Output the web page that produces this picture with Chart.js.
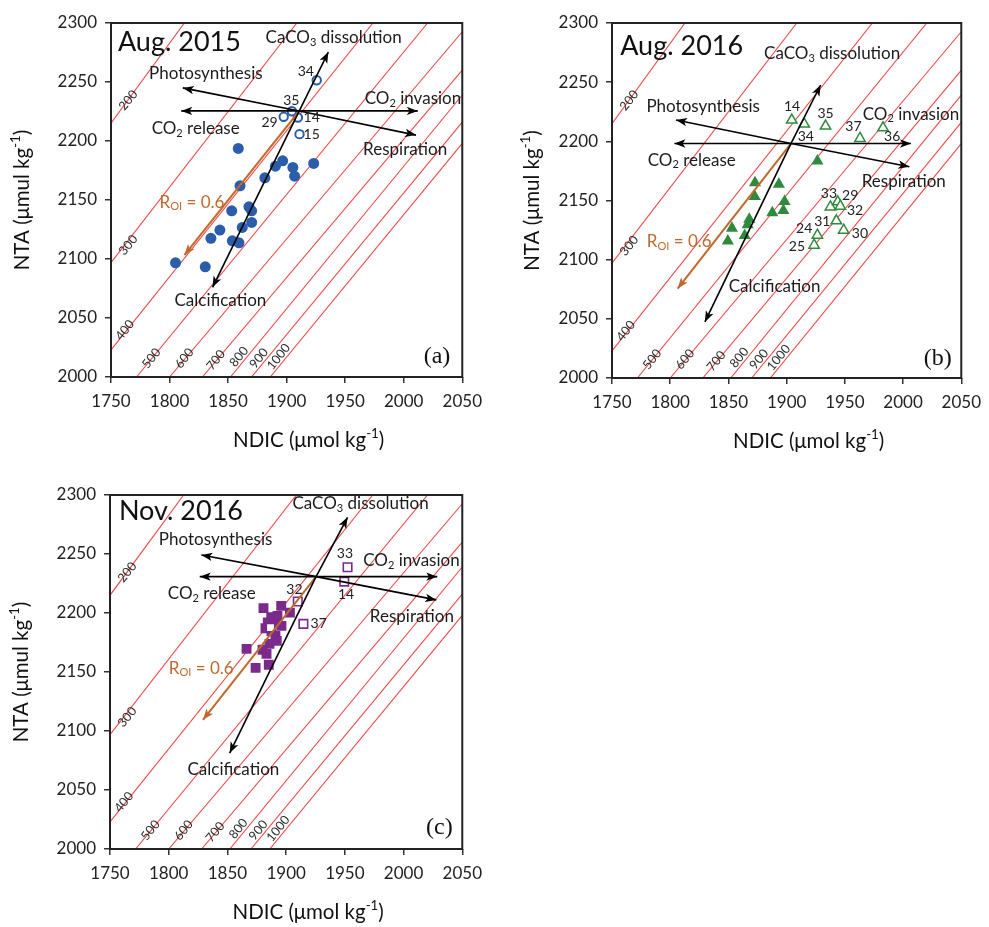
<!DOCTYPE html>
<html>
<head>
<meta charset="utf-8">
<script src="https://cdn.jsdelivr.net/npm/chart.js@4.4.1/dist/chart.umd.min.js"></script>
<style>
html,body{margin:0;padding:0;background:#fff;}
#wrap{position:relative;width:989px;height:927px;background:#fff;overflow:hidden;}
canvas{position:absolute;}
</style>
</head>
<body>
<div id="wrap">
<canvas id="pa" width="490" height="460" style="left:0px;top:0px;width:490px;height:460px"></canvas>
<canvas id="pb" width="489" height="460" style="left:500px;top:0px;width:489px;height:460px"></canvas>
<canvas id="pc" width="490" height="467" style="left:0px;top:460px;width:490px;height:467px"></canvas>
</div>
<script>
// ---------- axes ----------
const xTickValues = [1750, 1800, 1850, 1900, 1950, 2000, 2050];
const yTickValues = [2000, 2050, 2100, 2150, 2200, 2250, 2300];

// ---------- pCO2 isolines (µatm) ----------
const pco2Levels = [200, 300, 400, 500, 600, 700, 800, 900, 1000];
const isoStartDIC = [1750, 1750, 1750, 1771.8, 1800, 1828, 1852, 1870, 1886];
const isoStartTA  = [2215, 2097, 2023, 2000, 2000, 2000, 2000, 2000, 2000];
const isoEndDIC   = [1812.7, 1908.7, 1973.7, 2020.4, 2050, 2050, 2050, 2050, 2050];
const isoEndTA    = [2300, 2300, 2300, 2300, 2292.6, 2260, 2239, 2216, 2198];
const isoLabelDIC = [1764.7, 1764.7, 1761.9, 1784.5, 1812.7, 1839.6, 1859.3, 1876.3, 1893.2];
const isoLabelTA  = [2234.6, 2111.8, 2039.8, 2015.9, 2015.9, 2014.4, 2017.2, 2015.9, 2017.2];

// ---------- Aug. 2015 ----------
const aug15FilledDIC = [1858.7, 1890.4, 1896.6, 1905.3, 1906.8, 1923.1, 1881.4, 1860.2, 1853.1, 1867.8, 1870.1, 1843.0, 1835.3, 1862.1, 1870.1, 1853.6, 1859.3, 1805.1, 1830.5];
const aug15FilledTA  = [2193.7, 2178.7, 2183.2, 2177.6, 2170.2, 2181.0, 2168.8, 2162.0, 2140.8, 2144.2, 2140.8, 2124.5, 2117.5, 2126.8, 2131.0, 2115.4, 2113.7, 2096.8, 2093.4];
const aug15OpenIds = ['29', '35', '14', '15', '34'];
const aug15OpenDIC = [1897.5, 1904.5, 1909.6, 1911.0, 1925.7];
const aug15OpenTA  = [2220.5, 2225.2, 2219.9, 2205.8, 2251.5];
const aug15IdDIC = [1885.4, 1904.0, 1921.4, 1921.4, 1916.4];
const aug15IdTA  = [2215.3, 2234.6, 2219.9, 2205.8, 2259.1];

// ---------- Aug. 2016 ----------
const aug16FilledDIC = [1926.4, 1872.8, 1893.3, 1872.6, 1898.2, 1897.2, 1887.7, 1867.9, 1866.5, 1853.0, 1864.0, 1849.5];
const aug16FilledTA  = [2183.3, 2164.9, 2163.8, 2153.3, 2149.2, 2141.6, 2139.6, 2134.2, 2129.6, 2126.6, 2120.5, 2115.8];
const aug16OpenIds = ['14', '34', '35', '37', '36', '33', '29', '32', '31', '30', '24', '25'];
const aug16OpenDIC = [1904.4, 1915.1, 1933.4, 1963.0, 1982.8, 1937.6, 1943.9, 1946.1, 1942.7, 1949.0, 1926.4, 1923.6];
const aug16OpenTA  = [2218.0, 2214.6, 2212.9, 2202.5, 2211.4, 2144.6, 2148.9, 2145.2, 2132.8, 2124.9, 2120.7, 2112.2];
const aug16IdDIC = [1904.6, 1916.5, 1933.4, 1957.4, 1990.7, 1936.3, 1954.6, 1958.8, 1930.6, 1963.0, 1915.1, 1908.8];
const aug16IdTA  = [2229.2, 2203.8, 2223.6, 2212.3, 2203.8, 2156.0, 2154.5, 2141.8, 2131.9, 2122.1, 2126.4, 2110.8];

// ---------- Nov. 2016 ----------
const nov16FilledDIC = [1880.7, 1895.8, 1903.2, 1887.3, 1892.6, 1884.4, 1891.5, 1896.0, 1882.4, 1887.5, 1890.9, 1892.0, 1885.8, 1866.3, 1879.9, 1883.3, 1874.0, 1885.2];
const nov16FilledTA  = [2204.1, 2206.0, 2200.3, 2196.4, 2197.5, 2191.9, 2192.7, 2189.1, 2187.1, 2184.8, 2180.6, 2176.4, 2173.8, 2169.6, 2168.8, 2165.4, 2153.5, 2156.1];
const nov16OpenIds = ['32', '33', '14', '37', ''];
const nov16OpenDIC = [1909.9, 1952.3, 1949.5, 1914.7, 1886.7];
const nov16OpenTA  = [2209.7, 2238.8, 2226.6, 2190.8, 2187.6];
const nov16IdDIC = [1907.1, 1950.1, 1951.0, 1927.7, 0];
const nov16IdTA  = [2220.2, 2250.6, 2215.3, 2190.8, 0];

// ---------- process vectors: [release, invasion, photosynthesis, respiration, dissolution, calcification, R_OI] ----------
const vectorNames = ['CO2 release', 'CO2 invasion', 'Photosynthesis', 'Respiration', 'CaCO3 dissolution', 'Calcification', 'ROI = 0.6'];
const aug15Origin = [1910.8, 2225.5];
const aug15VecDIC = [1810.0, 2012.0, 1811.3, 2010.5, 1935.6, 1836.7, 1812.7];
const aug15VecTA  = [2225.5, 2225.5, 2245.0, 2205.0, 2275.4, 2076.0, 2103.3];
const aug16Origin = [1903.8, 2198.2];
const aug16VecDIC = [1803.6, 2006.8, 1805.0, 2005.4, 1929.2, 1829.8, 1806.4];
const aug16VecTA  = [2198.2, 2198.2, 2218.0, 2178.5, 2247.6, 2047.4, 2075.6];
const nov16Origin = [1925.5, 2230.8];
const nov16VecDIC = [1826.4, 2028.7, 1827.8, 2027.9, 1952.3, 1851.9, 1829.2];
const nov16VecTA  = [2230.8, 2230.8, 2249.2, 2211.1, 2281.1, 2081.3, 2109.5];

// ---------- text annotation anchors (left, middle) in data units ----------
// order: title, dissolution, photosynthesis, invasion, release, respiration, calcification, ROI, panel letter
const aug15TextDIC = [1755.9, 1882.0, 1782.5, 1966.7, 1784.7, 1965.3, 1804.2, 1791.5, 2017.0];
const aug15TextTA  = [2283.7, 2287.5, 2257.2, 2236.2, 2210.8, 2193.1, 2064.4, 2148.2, 2017.0];
const aug16TextDIC = [1757.0, 1880.6, 1779.6, 1965.3, 1780.7, 1964.5, 1850.2, 1779.9, 2017.8];
const aug16TextTA  = [2280.0, 2274.4, 2229.2, 2223.0, 2184.1, 2165.8, 2077.0, 2115.0, 2016.7];
const nov16TextDIC = [1757.6, 1905.4, 1791.6, 1965.6, 1799.2, 1971.3, 1816.0, 1800.1, 2019.1];
const nov16TextTA  = [2285.9, 2292.4, 2262.5, 2244.1, 2216.8, 2197.0, 2067.7, 2153.3, 2017.8];

const FONT = 'Lato, "Open Sans", sans-serif';
const RED = 'rgba(238,62,62,0.95)';
const BROWN = '#C0692C';
const INK = '#1b1b1b';

function pts(xs, ys) { return xs.map((x, i) => ({x: x, y: ys[i]})); }

function richWidth(ctx, segs, size) {
  let w = 0;
  segs.forEach(s => {
    const fs = (s.sub || s.sup) ? size * 0.65 : size;
    ctx.font = fs + 'px ' + FONT;
    w += ctx.measureText(s.t).width;
  });
  return w;
}
function drawRich(ctx, segs, x, y, size, color) {
  let cx = x;
  ctx.fillStyle = color;
  ctx.textBaseline = 'middle';
  ctx.textAlign = 'left';
  segs.forEach(s => {
    const fs = (s.sub || s.sup) ? size * 0.65 : size;
    const dy = s.sub ? size * 0.28 : (s.sup ? -size * 0.32 : 0);
    ctx.font = fs + 'px ' + FONT;
    ctx.fillText(s.t, cx, y + dy);
    cx += ctx.measureText(s.t).width;
  });
}

const procSegs = [
  [{t: 'CaCO'}, {t: '3', sub: true}, {t: ' dissolution'}],
  [{t: 'Photosynthesis'}],
  [{t: 'CO'}, {t: '2', sub: true}, {t: ' invasion'}],
  [{t: 'CO'}, {t: '2', sub: true}, {t: ' release'}],
  [{t: 'Respiration'}],
  [{t: 'Calcification'}]
];

function makePanel(id, cfg) {
  const canvas = document.getElementById(id);
  const W = canvas.width, H = canvas.height;
  const datasets = [];
  // process arrows (top)
  cfg.vecDIC.forEach((d, i) => {
    datasets.push({
      data: [{x: cfg.origin[0], y: cfg.origin[1]}, {x: d, y: cfg.vecTA[i]}],
      showLine: true, pointRadius: 0, borderColor: i === 6 ? BROWN : '#000',
      borderWidth: i === 6 ? 2 : 1.6, order: 0
    });
  });
  // open markers
  datasets.push({
    data: pts(cfg.openDIC, cfg.openTA), pointStyle: cfg.style,
    pointRadius: cfg.openR, backgroundColor: '#fff', borderColor: cfg.color,
    borderWidth: cfg.openBW, order: 1
  });
  // filled markers
  datasets.push({
    data: pts(cfg.filledDIC, cfg.filledTA), pointStyle: cfg.style,
    pointRadius: cfg.filledR, backgroundColor: cfg.color, borderColor: cfg.color,
    borderWidth: 0, order: 2
  });
  // isolines (bottom)
  pco2Levels.forEach((p, i) => {
    datasets.push({
      data: [{x: isoStartDIC[i], y: isoStartTA[i]}, {x: isoEndDIC[i], y: isoEndTA[i]}],
      showLine: true, pointRadius: 0, borderColor: RED, borderWidth: 1.1, order: 3
    });
  });

  const annot = {
    id: 'annot',
    afterDatasetsDraw(chart) {
      const ctx = chart.ctx, xs = chart.scales.x, ys = chart.scales.y;
      const px = v => xs.getPixelForValue(v), py = v => ys.getPixelForValue(v);
      ctx.save();
      // arrow heads
      cfg.vecDIC.forEach((d, i) => {
        const x0 = px(cfg.origin[0]), y0 = py(cfg.origin[1]);
        const x1 = px(d), y1 = py(cfg.vecTA[i]);
        const a = Math.atan2(y1 - y0, x1 - x0);
        const L = 11, Wd = 4.2;
        ctx.fillStyle = i === 6 ? BROWN : '#000';
        ctx.beginPath();
        ctx.moveTo(x1, y1);
        ctx.lineTo(x1 - L * Math.cos(a) + Wd * Math.sin(a), y1 - L * Math.sin(a) - Wd * Math.cos(a));
        ctx.lineTo(x1 - L * Math.cos(a) * 0.75, y1 - L * Math.sin(a) * 0.75);
        ctx.lineTo(x1 - L * Math.cos(a) - Wd * Math.sin(a), y1 - L * Math.sin(a) + Wd * Math.cos(a));
        ctx.closePath();
        ctx.fill();
      });
      // pCO2 labels
      ctx.font = '12.5px ' + FONT;
      ctx.fillStyle = '#2a2a2a';
      ctx.textAlign = 'center';
      ctx.textBaseline = 'middle';
      pco2Levels.forEach((p, i) => {
        ctx.save();
        ctx.translate(px(isoLabelDIC[i]), py(isoLabelTA[i]));
        ctx.rotate(-51 * Math.PI / 180);
        ctx.fillText(String(p), 0, 0);
        ctx.restore();
      });
      // station ids
      ctx.font = '14px ' + FONT;
      ctx.fillStyle = '#222';
      ctx.textAlign = 'center';
      ctx.textBaseline = 'middle';
      cfg.ids.forEach((s, i) => {
        if (s) ctx.fillText(s, px(cfg.idDIC[i]), py(cfg.idTA[i]));
      });
      // panel title
      ctx.font = '27px ' + FONT;
      ctx.fillStyle = '#111';
      ctx.textAlign = 'left';
      ctx.fillText(cfg.title, px(cfg.textDIC[0]), py(cfg.textTA[0]));
      // process labels
      procSegs.forEach((segs, k) => {
        drawRich(ctx, segs, px(cfg.textDIC[k + 1]), py(cfg.textTA[k + 1]), 17, INK);
      });
      // ROI
      drawRich(ctx, [{t: 'R'}, {t: 'OI', sub: true}, {t: ' = 0.6'}], px(cfg.textDIC[7]), py(cfg.textTA[7]), 17, BROWN);
      // panel letter
      ctx.font = '24px "Liberation Serif", "DejaVu Serif", serif';
      ctx.fillStyle = '#111';
      ctx.textAlign = 'left';
      ctx.fillText(cfg.letter, px(cfg.textDIC[8]), py(cfg.textTA[8]));
      ctx.restore();
    },
    afterDraw(chart) {
      const ctx = chart.ctx, ca = chart.chartArea;
      ctx.save();
      ctx.strokeStyle = '#222';
      ctx.lineWidth = 2;
      ctx.strokeRect(ca.left, ca.top, ca.right - ca.left, ca.bottom - ca.top);
      // axis titles
      const yT = [{t: 'NTA (\u03bcmul kg'}, {t: '-1', sup: true}, {t: ')'}];
      const xT = [{t: 'NDIC (\u03bcmol kg'}, {t: '-1', sup: true}, {t: ')'}];
      const ts = 20.5;
      let w = richWidth(ctx, xT, ts);
      drawRich(ctx, xT, (ca.left + ca.right) / 2 + 22 - w / 2, ca.bottom + cfg.xTitleOff, ts, '#111');
      w = richWidth(ctx, yT, ts);
      ctx.translate(ca.left - cfg.yTitleOff, (ca.top + ca.bottom) / 2);
      ctx.rotate(-Math.PI / 2);
      drawRich(ctx, yT, -w / 2, 0, ts, '#111');
      ctx.restore();
    }
  };

  const tickFont = {family: FONT, size: 17};
  return new Chart(canvas, {
    type: 'scatter',
    data: {datasets: datasets},
    options: {
      responsive: false, animation: false, devicePixelRatio: 1,
      layout: {padding: {left: 0, top: cfg.top, right: W - cfg.right, bottom: 0}},
      plugins: {legend: {display: false}, tooltip: {enabled: false}},
      scales: {
        x: {
          type: 'linear', min: 1750, max: 2050,
          afterBuildTicks: s => { s.ticks = xTickValues.map(v => ({value: v})); },
          ticks: {font: tickFont, color: '#222', padding: 8, maxRotation: 0, autoSkip: false, callback: v => String(v)},
          grid: {drawOnChartArea: false, tickLength: 6, color: '#333', lineWidth: 1.5},
          border: {display: false},
          afterFit: s => { s.height = H - cfg.bottom; }
        },
        y: {
          type: 'linear', min: 2000, max: 2300,
          afterBuildTicks: s => { s.ticks = yTickValues.map(v => ({value: v})); },
          ticks: {font: tickFont, color: '#222', padding: 8, autoSkip: false, callback: v => String(v)},
          grid: {drawOnChartArea: false, tickLength: 6, color: '#333', lineWidth: 1.5},
          border: {display: false},
          afterFit: s => { s.width = cfg.left; }
        }
      }
    },
    plugins: [annot]
  });
}

makePanel('pa', {
  left: 111, right: 465, top: 23, bottom: 377, xTitleOff: 63, yTitleOff: 89,
  style: 'circle', color: '#2C5DAA', filledR: 5.5, openR: 4.2, openBW: 2,
  filledDIC: aug15FilledDIC, filledTA: aug15FilledTA,
  openDIC: aug15OpenDIC, openTA: aug15OpenTA,
  ids: aug15OpenIds, idDIC: aug15IdDIC, idTA: aug15IdTA,
  origin: aug15Origin, vecDIC: aug15VecDIC, vecTA: aug15VecTA,
  textDIC: aug15TextDIC, textTA: aug15TextTA, title: 'Aug. 2015', letter: '(a)'
});
makePanel('pb', {
  left: 112, right: 466, top: 23, bottom: 378, xTitleOff: 63, yTitleOff: 80,
  style: 'triangle', color: '#2E8A3C', filledR: 7, openR: 6, openBW: 1.5,
  filledDIC: aug16FilledDIC, filledTA: aug16FilledTA,
  openDIC: aug16OpenDIC, openTA: aug16OpenTA,
  ids: aug16OpenIds, idDIC: aug16IdDIC, idTA: aug16IdTA,
  origin: aug16Origin, vecDIC: aug16VecDIC, vecTA: aug16VecTA,
  textDIC: aug16TextDIC, textTA: aug16TextTA, title: 'Aug. 2016', letter: '(b)'
});
makePanel('pc', {
  left: 110, right: 463, top: 35, bottom: 389, xTitleOff: 63, yTitleOff: 89,
  style: 'rect', color: '#7B2A8C', filledR: 7, openR: 6, openBW: 1.6,
  filledDIC: nov16FilledDIC, filledTA: nov16FilledTA,
  openDIC: nov16OpenDIC, openTA: nov16OpenTA,
  ids: nov16OpenIds, idDIC: nov16IdDIC, idTA: nov16IdTA,
  origin: nov16Origin, vecDIC: nov16VecDIC, vecTA: nov16VecTA,
  textDIC: nov16TextDIC, textTA: nov16TextTA, title: 'Nov. 2016', letter: '(c)'
});
</script>
</body>
</html>
